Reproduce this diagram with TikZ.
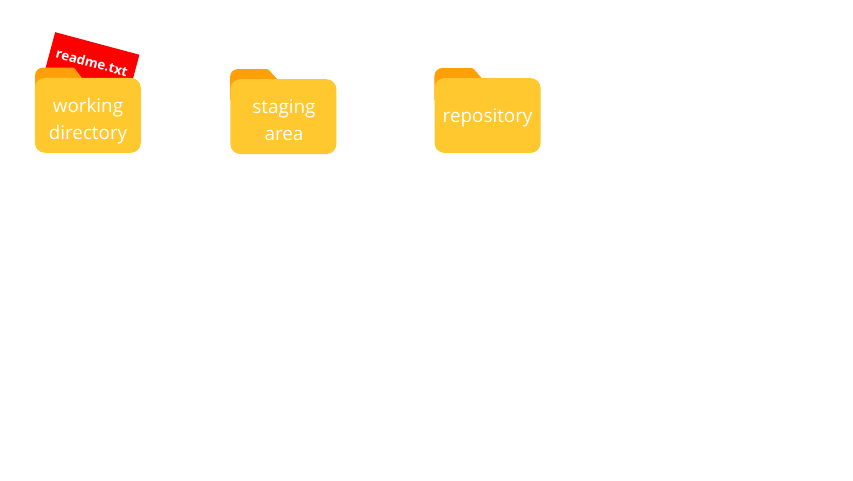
\documentclass[tikz,border=0pt]{standalone}
\usepackage{fontspec}
\setmainfont{Open Sans}

\tikzset{
    folder/.style={fill=folderyellow, rounded corners=0.25cm, minimum width=2.65cm, minimum height=1.87cm},
    foldertext/.style={align=center, text=white, font=\fontsize{13.4}{18.75}\selectfont},
    foldertab/.style={fill=taborange},
    card/.style={fill=cardred, minimum width=2.18cm, minimum height=1.25cm, rotate=-15}
}
\definecolor{folderyellow}{HTML}{FFC82E}
\definecolor{taborange}{HTML}{FFA008}
\definecolor{cardred}{HTML}{FF0000}

\begin{document}
\begin{tikzpicture}
            \useasboundingbox (0, 0) rectangle (21.325cm, -12cm);

            \node[card] (card) at (2.27cm, -1.69cm) {};
            \node[rotate=-15, text=white, font=\fontsize{9.4}{11}\selectfont\bfseries] (cardtext) at (2.3cm, -1.56cm) {readme.txt};

            \fill[foldertab] (0.875cm, -2.5cm) [rounded corners=0.2cm] -- (0.875cm, -1.69cm) [rounded corners=0.03cm] -- (1.85cm, -1.69cm) [sharp corners] -- (2.05cm, -1.95cm) -- (2.05cm, -2.5cm) -- cycle;
            \fill[foldertab] (5.75cm, -2.5cm) [rounded corners=0.2cm] -- (5.75cm, -1.725cm) [rounded corners=0.03cm] -- (6.7cm, -1.725cm) [sharp corners] -- (6.93cm, -1.98cm) -- (6.93cm, -2.5cm) -- cycle;
            \fill[foldertab] (10.86cm, -2.5cm) [rounded corners=0.2cm] -- (10.86cm, -1.7cm) [rounded corners=0.03cm] -- (11.82cm, -1.7cm) [sharp corners] -- (12.04cm, -1.95cm) -- (12.04cm, -2.5cm) -- cycle;

            \node[folder] (work) at (2.196cm, -2.884cm) {};
            \node[folder] (stage) at (7.084cm, -2.916cm) {};
            \node[folder] (repo) at (12.19cm, -2.888cm) {};

            \node[foldertext] (worktext) at (2.2cm, -3.03cm) {working\\directory};
            \node[foldertext] (stagetext) at (7.1cm, -3cm) {staging\\area};
            \node[foldertext] (repotext) at (12.19cm, -2.95cm) {repository};
        \end{tikzpicture}
\end{document}
